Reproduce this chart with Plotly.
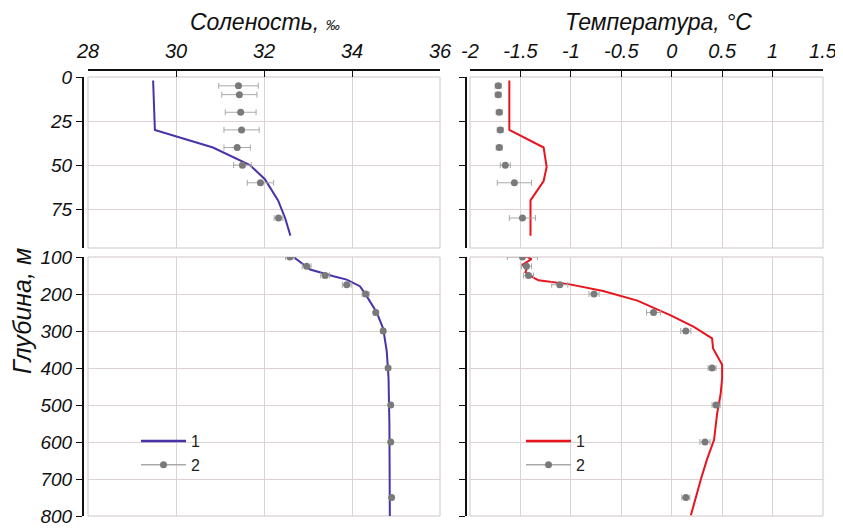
import plotly.graph_objects as go

# ---------------- data ----------------
# Salinity, model line (1)
sal_line_top_depth = [2, 30, 40, 50, 58, 70, 80, 90]
sal_line_top_val = [29.48, 29.52, 30.84, 31.68, 32.02, 32.32, 32.48, 32.60]
sal_line_bot_depth = [100, 134, 152, 161, 179, 205, 249, 294, 355, 426, 550, 700, 800]
sal_line_bot_val = [32.67, 33.05, 33.58, 33.88, 34.18, 34.33, 34.56, 34.71, 34.79, 34.83, 34.85, 34.86, 34.86]
# Salinity, observations (2)
sal_obs_top_depth = [5, 10, 20, 30, 40, 50, 60, 80]
sal_obs_top_val = [31.42, 31.44, 31.47, 31.49, 31.39, 31.51, 31.92, 32.33]
sal_obs_top_err = [0.45, 0.40, 0.35, 0.40, 0.30, 0.20, 0.30, 0.10]
sal_obs_bot_depth = [100, 125, 150, 175, 200, 250, 300, 400, 500, 600, 750]
sal_obs_bot_val = [32.59, 32.97, 33.39, 33.88, 34.31, 34.54, 34.71, 34.82, 34.88, 34.88, 34.90]
sal_obs_bot_err = [0.10, 0.10, 0.10, 0.10, 0.08, 0.05, 0.05, 0.03, 0.03, 0.03, 0.03]

# Temperature, model line (1)
tmp_line_top_depth = [2, 30, 40, 51, 59, 70, 90]
tmp_line_top_val = [-1.61, -1.61, -1.27, -1.24, -1.27, -1.40, -1.40]
tmp_line_bot_depth = [99, 106, 121, 133, 141, 152, 163, 174, 192, 218, 258, 289, 320, 347, 391, 427, 471, 524, 594, 647, 700, 798]
tmp_line_bot_val = [-1.44, -1.39, -1.48, -1.44, -1.45, -1.40, -1.32, -1.01, -0.68, -0.34, -0.01, 0.22, 0.40, 0.41, 0.50, 0.50, 0.485, 0.45, 0.42, 0.35, 0.29, 0.19]
# Temperature, observations (2)
tmp_obs_top_depth = [5, 10, 20, 30, 40, 50, 60, 80]
tmp_obs_top_val = [-1.72, -1.72, -1.71, -1.70, -1.71, -1.65, -1.56, -1.48]
tmp_obs_top_err = [0.03, 0.03, 0.03, 0.03, 0.03, 0.05, 0.17, 0.13]
tmp_obs_bot_depth = [100, 125, 150, 175, 200, 250, 300, 400, 500, 600, 750]
tmp_obs_bot_val = [-1.48, -1.44, -1.42, -1.11, -0.77, -0.18, 0.14, 0.40, 0.44, 0.33, 0.14]
tmp_obs_bot_err = [0.15, 0.05, 0.05, 0.08, 0.05, 0.07, 0.05, 0.04, 0.04, 0.05, 0.04]

sal_ticks = [28, 30, 32, 34, 36]
tmp_ticks = [-2, -1.5, -1, -0.5, 0, 0.5, 1, 1.5]
tmp_ticktext = ["-2", "-1.5", "-1", "-0.5", "0", "0.5", "1", "1.5"]
depth_ticks_top = [0, 25, 50, 75]
depth_ticks_bot = [100, 200, 300, 400, 500, 600, 700, 800]

# ---------------- layout helpers ----------------
OFF = 8  # page body margin
W, H = 843 - OFF, 528 - OFF
def px(x):
    return (x - OFF) / W
def py(y):
    return 1 - (y - OFF) / H

SAL_COLOR = "#4b32a8"
TMP_COLOR = "#e8141e"
OBS_COLOR = "#7a7a7a"
ERR_COLOR = "#a9a9a9"
GRID = "#dcd2d2"
FONT = "Liberation Sans"

fig = go.Figure()

def line(x, y, xa, ya, color):
    fig.add_trace(go.Scatter(x=x, y=y, xaxis=xa, yaxis=ya, mode="lines",
                             line=dict(color=color, width=2), showlegend=False,
                             hoverinfo="skip"))

def obs(x, y, err, xa, ya):
    fig.add_trace(go.Scatter(x=x, y=y, xaxis=xa, yaxis=ya, mode="markers",
                             marker=dict(color=OBS_COLOR, size=7),
                             error_x=dict(type="data", array=err, color=ERR_COLOR,
                                          thickness=1, width=3),
                             showlegend=False))

line(sal_line_top_val, sal_line_top_depth, "x", "y", SAL_COLOR)
line(sal_line_bot_val, sal_line_bot_depth, "x2", "y2", SAL_COLOR)
obs(sal_obs_top_val, sal_obs_top_depth, sal_obs_top_err, "x", "y")
obs(sal_obs_bot_val, sal_obs_bot_depth, sal_obs_bot_err, "x2", "y2")

line(tmp_line_top_val, tmp_line_top_depth, "x3", "y3", TMP_COLOR)
line(tmp_line_bot_val, tmp_line_bot_depth, "x4", "y4", TMP_COLOR)
obs(tmp_obs_top_val, tmp_obs_top_depth, tmp_obs_top_err, "x3", "y3")
obs(tmp_obs_bot_val, tmp_obs_bot_depth, tmp_obs_bot_err, "x4", "y4")

# legend entries
for color, lg, xa, ya in [(SAL_COLOR, "legend", "x2", "y2"), (TMP_COLOR, "legend2", "x4", "y4")]:
    fig.add_trace(go.Scatter(x=[None], y=[None], xaxis=xa, yaxis=ya, mode="lines",
                             line=dict(color=color, width=2.5), name="1", legend=lg))
    fig.add_trace(go.Scatter(x=[None], y=[None], xaxis=xa, yaxis=ya, mode="lines+markers",
                             line=dict(color=ERR_COLOR, width=1.5),
                             marker=dict(color=OBS_COLOR, size=7), name="2", legend=lg))

xtickfont = dict(family=FONT, size=20, color="#111", style="italic")
ytickfont = dict(family=FONT, size=19, color="#111", style="italic")

left_dom = [px(88), px(440)]
right_dom = [px(470), px(823)]
top_dom = [py(248), py(77)]
bot_dom = [py(516), py(257)]
top_range = [97, 0]
bot_range = [800, 100]

def xvis(dom, rng, tickvals, ticktext):
    return dict(domain=dom, range=rng, side="top", anchor="free", position=py(70),
                tickvals=tickvals, ticktext=ticktext, ticks="inside", ticklen=6,
                tickcolor="#111", showline=True, linecolor="#111", linewidth=2,
                showgrid=True, gridcolor=GRID, gridwidth=1, zeroline=False,
                tickfont=xtickfont, ticklabelstandoff=3, ticklabeloverflow="allow",
                fixedrange=True)

def xhid(dom, rng, tickvals, match):
    return dict(domain=dom, range=rng, anchor=match, tickvals=tickvals,
                showticklabels=False, ticks="", showline=False,
                showgrid=True, gridcolor=GRID, gridwidth=1, zeroline=False)

def yax(dom, rng, tickvals, pos, labels):
    return dict(domain=dom, range=rng, anchor="free", position=pos, side="left",
                tickvals=tickvals, showticklabels=labels, ticks="outside", ticklen=6,
                tickcolor="#111", showline=True, linecolor="#111", linewidth=2,
                showgrid=True, gridcolor=GRID, gridwidth=1, zeroline=False,
                tickfont=ytickfont, ticklabeloverflow="allow", fixedrange=True)

legfont = dict(family=FONT, size=16, color="#222")
fig.update_layout(
    width=W, height=H,
    margin=dict(l=0, r=0, t=0, b=0, autoexpand=False),
    paper_bgcolor="white", plot_bgcolor="white",
    font=dict(family=FONT, color="#111"),
    xaxis=xvis(left_dom, [28, 36], sal_ticks, [str(t) for t in sal_ticks]),
    xaxis2=xhid(left_dom, [28, 36], sal_ticks, "y2"),
    xaxis3=xvis(right_dom, [-2, 1.5], tmp_ticks, tmp_ticktext),
    xaxis4=xhid(right_dom, [-2, 1.5], tmp_ticks, "y4"),
    yaxis=yax(top_dom, top_range, depth_ticks_top, px(83), True),
    yaxis2=yax(bot_dom, bot_range, depth_ticks_bot, px(83), True),
    yaxis3=yax(top_dom, top_range, depth_ticks_top, px(466), False),
    yaxis4=yax(bot_dom, bot_range, depth_ticks_bot, px(466), False),
    legend=dict(x=px(136), y=py(424), xanchor="left", yanchor="top",
                bgcolor="rgba(0,0,0,0)", font=legfont,
                tracegroupgap=0, itemwidth=45),
    legend2=dict(x=px(521), y=py(424), xanchor="left", yanchor="top",
                 bgcolor="rgba(0,0,0,0)", font=legfont,
                 tracegroupgap=0, itemwidth=45),
    annotations=[
        dict(text="Соленость, <span style='font-size:14px'>‰</span>", x=px(265), y=py(22),
             xref="paper", yref="paper", showarrow=False, xanchor="center", yanchor="middle",
             font=dict(family=FONT, size=23, color="#111", style="italic")),
        dict(text="Температура, °C", x=px(658), y=py(22),
             xref="paper", yref="paper", showarrow=False, xanchor="center", yanchor="middle",
             font=dict(family=FONT, size=23, color="#111", style="italic")),
        dict(text="Глубина, м", x=px(22), y=py(311), textangle=-90,
             xref="paper", yref="paper", showarrow=False, xanchor="center", yanchor="middle",
             font=dict(family=FONT, size=25, color="#111", style="italic")),
    ],
)

# plot area borders (light)
for dom in (left_dom, right_dom):
    for yd in (top_dom, bot_dom):
        fig.add_shape(type="rect", xref="paper", yref="paper",
                      x0=dom[0], x1=dom[1], y0=yd[0], y1=yd[1],
                      line=dict(color="#cfc6c6", width=1), layer="below")

fig.write_html("out.html")
